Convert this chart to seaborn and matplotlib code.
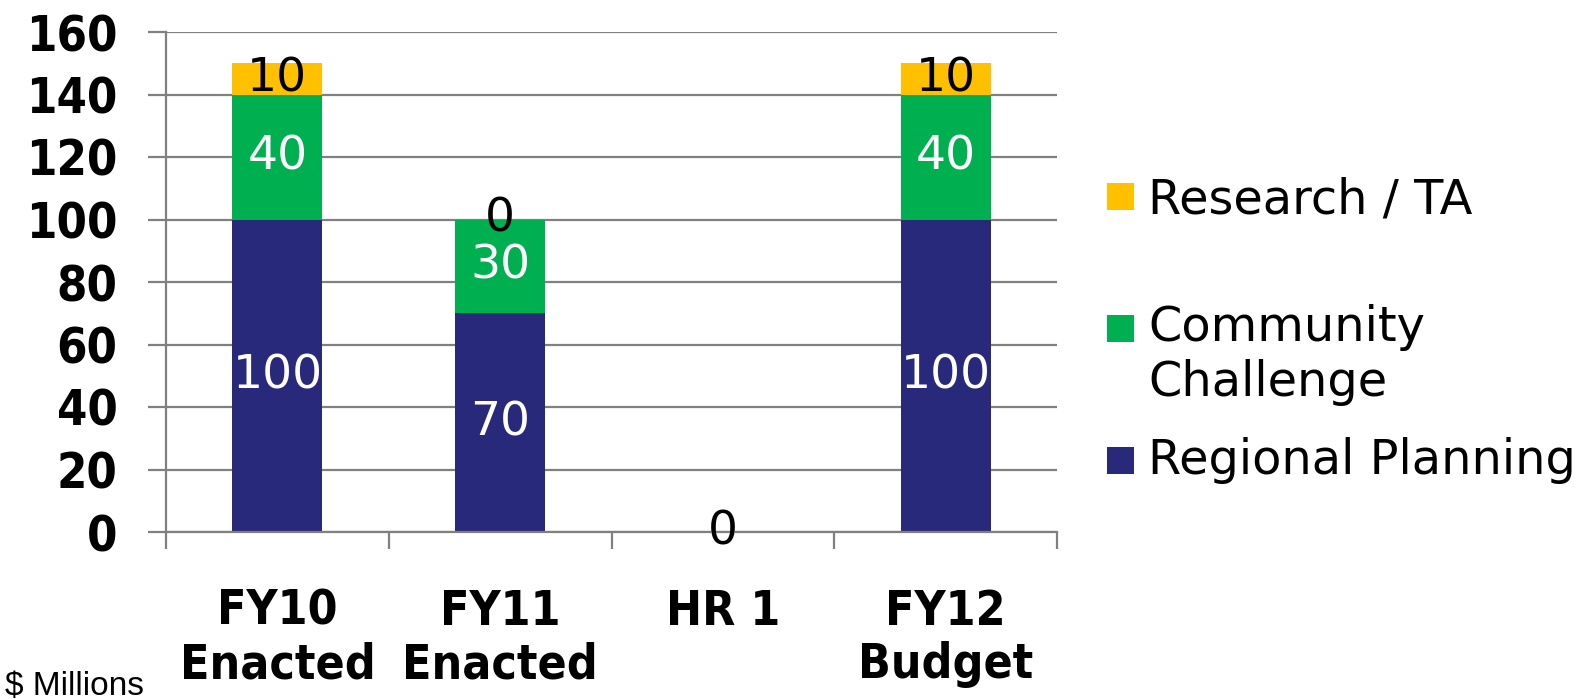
import numpy as np
import matplotlib.pyplot as plt
import seaborn as sns
from matplotlib.patches import Rectangle

# data
categories = ["FY10\nEnacted", "FY11\nEnacted", "HR 1", "FY12\nBudget"]
regional_planning = [100, 70, 0, 100]
community_challenge = [40, 30, 0, 40]
research_ta = [10, 0, 0, 10]

series_names = ["Regional Planning", "Community\nChallenge", "Research / TA"]
series_colors = ["#29297B", "#00B050", "#FFC000"]
label_colors = ["white", "white", "black"]

sns.set_theme(style="white")
plt.rcParams["font.family"] = ["DejaVu Sans"]
plt.rcParams["text.color"] = "black"
plt.rcParams["xtick.labelcolor"] = "black"
plt.rcParams["ytick.labelcolor"] = "black"

W, H = 1583, 699
fig = plt.figure(figsize=(W / 100, H / 100), dpi=100)
ax = fig.add_axes([166 / W, 1 - 532 / H, (1057 - 166) / W, (532 - 32) / H])

layers = np.array([regional_planning, community_challenge, research_ta], dtype=float)
tops = layers.cumsum(axis=0)
bottoms = tops - layers

# stacked look: draw cumulative totals, tallest first
for i in reversed(range(len(layers))):
    sns.barplot(x=categories, y=tops[i], order=categories, color=series_colors[i],
                saturation=1, width=0.405, linewidth=0, edgecolor="none",
                ax=ax, zorder=2)

# segment labels
for i in range(len(layers)):
    for j in range(len(categories)):
        ax.text(j, bottoms[i, j] + layers[i, j] / 2, f"{int(layers[i, j])}",
                ha="center", va="center", color=label_colors[i],
                fontsize=34, zorder=5)

grey = "#808080"
ax.set_ylim(0, 160)
ax.set_yticks(range(0, 161, 20))
ax.yaxis.grid(True, color=grey, lw=1.6, zorder=0)
ax.set_axisbelow(True)
ax.set_xlim(-0.5, len(categories) - 0.5)

# tick marks at category boundaries, labels at centres
ax.set_xticks(np.arange(-0.5, len(categories), 1.0))
ax.set_xticklabels([])
ax.set_xticks(range(len(categories)), minor=True)
ax.set_xticklabels(categories, minor=True, fontsize=34.5, fontweight="bold",
                   fontstretch="condensed", linespacing=1.18)
ax.tick_params(axis="x", which="major", direction="out", length=12, width=1.6,
               color=grey, bottom=True)
ax.tick_params(axis="x", which="minor", length=0, pad=40)
ax.tick_params(axis="y", direction="out", length=13, width=1.6, color=grey,
               left=True, pad=22)
for lab in ax.get_yticklabels():
    lab.set_fontsize(35)
    lab.set_fontweight("bold")
    lab.set_fontstretch("condensed")

for side in ["top", "right"]:
    ax.spines[side].set_visible(False)
for side in ["left", "bottom"]:
    ax.spines[side].set_color(grey)
    ax.spines[side].set_linewidth(1.6)
ax.set_xlabel("")
ax.set_ylabel("")

# legend drawn beside the plot
legend_rows = [(2, 200, 196), (1, 355, 328), (0, 460, 460)]
for i, text_y, box_y in legend_rows:
    fig.patches.append(Rectangle((1107 / W, 1 - (box_y + 14) / H), 27 / W, 27 / H,
                                 transform=fig.transFigure, facecolor=series_colors[i],
                                 edgecolor="none"))
    fig.text(1148 / W, 1 - text_y / H, series_names[i], ha="left", va="center",
             fontsize=34.5, linespacing=1.2)

fig.text(5 / W, 1 - 686 / H, "$ Millions", ha="left", va="center",
         fontsize=24, family=["Liberation Sans", "DejaVu Sans"])

fig.savefig("out.png", dpi=100)
